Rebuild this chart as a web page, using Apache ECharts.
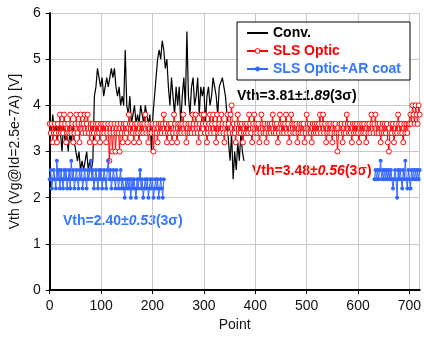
<!DOCTYPE html>
<html><head><meta charset="utf-8">
<script src="https://cdn.jsdelivr.net/npm/echarts@6/dist/echarts.min.js"></script>
<style>html,body{margin:0;padding:0;background:#fff}#c{width:424px;height:337px}</style>
</head><body><div id="c"></div>
<script>
// Conv. : x from 0 step 3
const convStep = 3;
const convValues = [
3.6,3.4,3.8,3.4,3.6,3.2,3.6,
3.4,3.0,3.6,3.2,3.4,3.0,3.4,3.2,3.6,
3.2,3.0,2.8,3.0,2.6,2.8,2.6,2.8,3.0,2.6,2.8,2.6,2.8,
4.2,4.4,4.8,4.6,4.4,4.6,4.2,4.4,4.6,4.4,4.6,4.8,4.6,4.8,4.4,
4.2,4.4,4.0,4.2,4.0,5.2,
4.0,3.8,4.2,3.6,3.8,4.0,3.6,3.8,3.6,4.0,3.8,3.6,4.0,3.8,3.6,3.8,
3.0,3.8,4.2,4.6,
5.0,5.2,5.0,5.4,5.2,4.8,5.0,
4.4,4.0,4.6,4.2,3.8,4.4,4.0,4.4,3.6,4.2,4.6,4.0,
5.6,
4.2,3.8,4.4,4.6,4.0,4.2,4.6,3.8,4.4,4.2,4.4,3.6,4.2,4.4,4.0,4.2,4.6,4.4,4.2,3.8,4.4,
4.4,4.6,4.4,4.2,3.8,
3.2,2.8,3.4,2.4,3.0,2.6,3.2,2.8,3.4,3.0,2.8
];
// SLS Optic : x from 0 step 2
const slsStep = 2;
const slsValues = [
3.6,3.4,3.6,3.2,3.4,3.6,3.4,3.2,3.6,3.4,3.8,3.4,3.6,3.4,3.8,3.6,3.2,3.4,3.6,3.4,
3.8,3.4,3.6,3.2,3.4,3.6,3.8,3.4,3.6,3.2,3.8,3.6,3.4,3.6,3.8,3.4,3.6,3.8,3.4,3.2,
3.6,3.4,3.6,3.4,3.2,3.6,3.4,3.6,3.4,3.2,3.6,3.4,3.6,3.4,3.6,3.2,3.4,3.6,2.8,3.4,
3.6,3.0,3.4,3.6,3.0,3.4,3.6,3.4,3.0,3.6,3.4,3.2,3.6,3.4,3.6,3.4,3.2,3.8,3.6,3.4,
3.6,3.4,3.2,3.6,3.4,3.6,3.4,3.2,3.6,3.4,3.6,3.4,3.6,3.8,3.4,3.6,3.2,3.4,3.6,3.4,
3.6,3.0,3.4,3.6,3.4,3.2,3.6,3.4,3.6,3.4,3.6,3.8,3.4,3.6,3.2,3.4,3.6,3.4,3.6,3.2,
3.4,3.8,3.6,3.4,3.2,3.6,3.4,3.6,3.4,3.6,3.8,3.4,3.6,3.2,3.4,3.6,3.4,3.6,3.4,3.8,
3.6,3.4,3.8,3.6,3.4,3.2,3.6,3.4,3.8,3.6,3.8,3.4,3.6,3.2,3.4,3.6,3.8,3.4,3.6,3.8,
3.4,3.6,3.2,3.8,3.4,3.6,3.4,3.8,3.6,3.4,3.2,3.6,3.4,3.8,3.6,3.4,3.8,4.0,3.4,3.6,
3.4,3.2,3.6,3.8,3.4,3.6,3.4,3.6,3.2,3.4,3.6,3.4,3.6,3.4,3.8,3.6,3.4,3.2,3.6,3.8,
3.4,3.6,3.4,3.6,3.2,3.4,3.8,3.6,3.4,3.6,3.4,3.2,3.6,3.4,3.6,3.4,3.6,3.8,3.4,3.6,
3.4,3.6,3.2,3.4,3.8,3.6,3.4,3.6,3.4,3.6,3.8,3.4,3.6,3.2,3.4,3.8,3.6,3.4,3.6,3.4,
3.6,3.2,3.4,3.6,3.4,3.6,3.4,3.6,3.2,3.4,3.8,3.6,3.4,3.6,3.4,3.2,3.6,3.4,3.6,3.4,
3.6,3.4,3.6,3.8,3.4,3.6,3.8,3.4,3.6,3.2,3.4,3.6,3.4,3.6,3.4,3.2,3.6,3.4,3.6,3.4,
3.0,3.4,3.6,3.4,3.6,3.2,3.4,3.6,3.4,3.8,3.6,3.4,3.6,3.4,3.2,3.6,3.4,3.6,3.4,3.6,
3.4,3.2,3.6,3.4,3.6,3.4,3.6,3.4,3.2,3.6,3.4,3.6,3.4,3.8,3.6,3.4,3.6,3.8,3.4,3.6,
3.4,3.6,3.2,3.4,3.6,3.4,3.6,3.4,3.6,3.2,3.0,3.4,3.6,3.4,3.6,3.2,3.4,3.6,3.4,3.8,
3.6,3.4,3.6,3.4,3.2,3.6,3.4,3.6,3.4,3.6,3.6,3.8,3.6,4.0,3.8,3.6,4.0,3.8,3.6,4.0,
3.8
];
// SLS Optic+AR coat : two runs, step 2
const arStep = 2;
const arStart1 = 0;
const arValues1 = [
2.4,2.6,2.2,2.4,2.6,2.4,2.2,2.8,2.4,2.6,2.2,2.6,2.4,2.2,2.6,2.4,2.6,2.2,2.4,2.6,
2.2,2.8,2.4,2.6,2.2,2.4,2.6,2.4,2.2,2.6,2.4,2.6,2.2,2.4,2.6,2.4,2.2,2.6,2.4,2.6,
2.8,2.4,2.6,2.2,2.4,2.6,2.4,2.2,2.6,2.4,2.6,2.2,2.4,2.6,2.4,2.2,2.6,2.8,2.4,2.6,
2.2,2.4,2.6,2.4,2.2,2.6,2.4,2.2,2.4,2.6,2.2,2.4,2.2,2.0,2.4,2.2,2.4,2.2,2.4,2.0,
2.4,2.2,2.4,2.2,2.0,2.4,2.2,2.4,2.6,2.2,2.4,2.0,2.2,2.4,2.2,2.4,2.0,2.2,2.4,2.2,
2.4,2.0,2.2,2.4,2.2,2.4,2.0,2.2,2.4,2.2,2.0,2.4
];
const arStart2 = 632;
const arValues2 = [
2.4,2.6,2.4,2.6,2.4, 2.6,2.8,2.4,2.6,2.4, 2.6,2.4,2.6,2.4,2.6,
2.4,2.6,2.4,2.2,2.4, 2.6,2.4,2.0,2.6,2.4, 2.6,2.4,2.2,2.6,2.4,
2.8,2.4,2.2,2.6,2.4, 2.2,2.6,2.4,2.6,2.4, 2.6,2.4,2.6,2.4,2.6
];
const xTicks = [0,100,200,300,400,500,600,700];
const yTicks = [0,1,2,3,4,5,6];

const FONT = 'Liberation Sans, Arial, sans-serif';
const BLUE = '#3366ff', BLUE_T = '#3377ff', RED = '#ff0000';

const convData = convValues.map((v,i)=>[i*convStep, v]);
const slsData = slsValues.map((v,i)=>[i*slsStep, v]);
const arData = arValues1.map((v,i)=>[arStart1 + i*arStep, v]);
arData.push([null, null]);
arValues2.forEach((v,i)=>arData.push([arStart2 + i*arStep, v]));

const chart = echarts.init(document.getElementById('c'), null, {renderer:'canvas'});
chart.setOption({
  animation: false,
  textStyle: {fontFamily: FONT},
  grid: {left: 46, right: 1, top: 13, bottom: 33},
  xAxis: {
    type: 'value', min: 0, max: 720, interval: 100,
    name: 'Point', nameLocation: 'middle', nameGap: 24,
    nameTextStyle: {fontSize: 14, color: '#111', fontFamily: FONT},
    axisLine: {show: true, lineStyle: {color: '#000', width: 2}},
    axisTick: {show: true, length: 4, lineStyle: {color: '#000'}},
    axisLabel: {fontSize: 14, color: '#111', fontFamily: FONT, margin: 9, showMaxLabel: false,
      formatter: v => xTicks.includes(v) ? String(v) : ''},
    splitLine: {show: true, lineStyle: {color: '#c8c8c8', width: 1}}
  },
  yAxis: {
    type: 'value', min: 0, max: 6, interval: 1,
    name: 'Vth (Vg@Id=2.5e-7A) [V]', nameLocation: 'middle', nameGap: 23,
    nameTextStyle: {fontSize: 14, color: '#111', fontFamily: FONT},
    axisLine: {show: true, lineStyle: {color: '#000', width: 2}},
    axisTick: {show: true, length: 4, lineStyle: {color: '#000'}},
    axisLabel: {fontSize: 14, color: '#111', fontFamily: FONT, margin: 9,
      formatter: v => yTicks.includes(v) ? String(v) : ''},
    splitLine: {show: true, lineStyle: {color: '#c8c8c8', width: 1}}
  },
  legend: {
    orient: 'vertical', left: 237, top: 22,
    padding: [4, 9, 4, 9], itemGap: 4, itemWidth: 21, itemHeight: 6,
    backgroundColor: '#fff', borderColor: '#000', borderWidth: 1, borderRadius: 0,
    textStyle: {fontSize: 14, fontWeight: 'bold', fontFamily: FONT},
    data: [
      {name: 'Conv.', textStyle: {color: '#000'}, itemStyle: {opacity: 0}},
      {name: 'SLS Optic', textStyle: {color: RED}, itemStyle: {color: '#fff', borderColor: RED, borderWidth: 1}},
      {name: 'SLS Optic+AR coat', textStyle: {color: BLUE_T}}
    ]
  },
  series: [
    {name: 'Conv.', type: 'line', data: convData, symbol: 'none',
     lineStyle: {color: '#000', width: 1.2}, itemStyle: {color: '#000'}},
    {name: 'SLS Optic', type: 'line', data: slsData, symbol: 'circle', symbolSize: 5, showSymbol: true,
     showAllSymbol: true,
     lineStyle: {color: RED, width: 1}, itemStyle: {color: '#fff', borderColor: RED, borderWidth: 1}},
    {name: 'SLS Optic+AR coat', type: 'line', data: arData, symbol: 'circle', symbolSize: 4, showSymbol: true,
     showAllSymbol: true, connectNulls: false,
     lineStyle: {color: BLUE, width: 1}, itemStyle: {color: BLUE}}
  ],
  graphic: [
    {type: 'text', x: 237, y: 96, style: {
      text: '{a|Vth=3.81±}{b|1.89}{a|(3σ)}', verticalAlign: 'middle',
      rich: {a: {fontSize: 14, fontWeight: 'bold', fontFamily: FONT, fill: '#000'},
             b: {fontSize: 14, fontWeight: 'bold', fontStyle: 'italic', fontFamily: FONT, fill: '#000'}}}},
    {type: 'text', x: 252, y: 171, style: {
      text: '{a|Vth=3.48±}{b|0.56}{a|(3σ)}', verticalAlign: 'middle',
      rich: {a: {fontSize: 14, fontWeight: 'bold', fontFamily: FONT, fill: RED},
             b: {fontSize: 14, fontWeight: 'bold', fontStyle: 'italic', fontFamily: FONT, fill: RED}}}},
    {type: 'text', x: 63, y: 221, style: {
      text: '{a|Vth=2.40±}{b|0.53}{a|(3σ)}', verticalAlign: 'middle',
      rich: {a: {fontSize: 14, fontWeight: 'bold', fontFamily: FONT, fill: BLUE_T},
             b: {fontSize: 14, fontWeight: 'bold', fontStyle: 'italic', fontFamily: FONT, fill: BLUE_T}}}}
  ]
});
</script></body></html>
